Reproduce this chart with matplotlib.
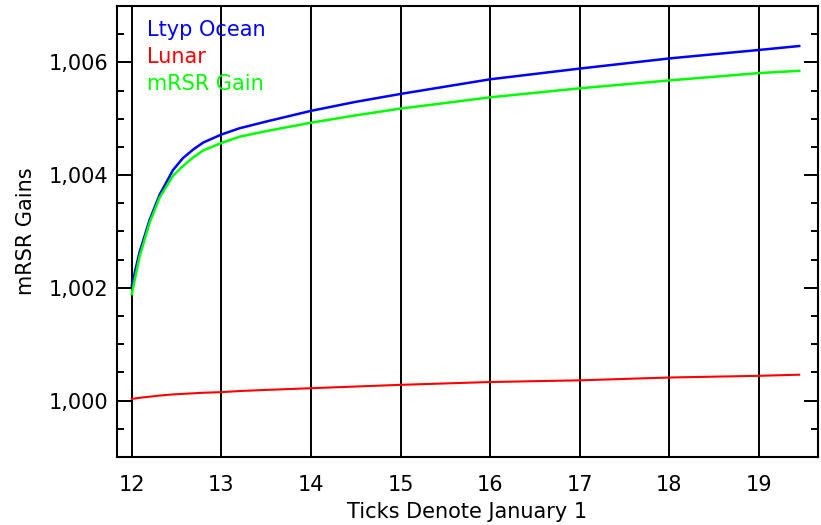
import matplotlib
matplotlib.use("Agg")
import matplotlib.pyplot as plt
from matplotlib.ticker import MultipleLocator, FixedLocator, FixedFormatter

# --- data (x in years, ticks mark January 1) ---
years = [12.0, 12.086, 12.2, 12.31, 12.46, 12.57, 12.69, 12.8, 13.0, 13.2,
         13.5, 14.0, 14.5, 15.0, 16.0, 17.0, 18.0, 19.0, 19.45]
ltyp_ocean = [1.00204, 1.00263, 1.00321, 1.00365, 1.00409, 1.00430, 1.00446, 1.00458,
              1.00472, 1.00483, 1.00495, 1.00514, 1.00530, 1.00544, 1.00570, 1.00589,
              1.00607, 1.00622, 1.00629]
mrsr_gain = [1.00189, 1.00255, 1.00316, 1.00360, 1.00399, 1.00416, 1.00432, 1.00444,
             1.00457, 1.00468, 1.00478, 1.00493, 1.00506, 1.00518, 1.00538, 1.00554,
             1.00568, 1.00581, 1.00585]
lunar = [1.00003, 1.00005, 1.00007, 1.00009, 1.00011, 1.00012, 1.00013, 1.00014,
         1.00015, 1.00017, 1.00019, 1.00022, 1.00025, 1.00028, 1.00033, 1.00036,
         1.00041, 1.00044, 1.00046]

x_ticks = [12, 13, 14, 15, 16, 17, 18, 19]
y_ticks = [1.000, 1.002, 1.004, 1.006]
y_tick_labels = ["1,000", "1,002", "1,004", "1,006"]

series = [("Ltyp Ocean", ltyp_ocean, "#0000ff"),
          ("Lunar", lunar, "#ff0000"),
          ("mRSR Gain", mrsr_gain, "#00ff00")]

plt.rcParams['font.family'] = ['DejaVu Sans']
FS = 15

fig = plt.figure(figsize=(8.21, 5.25), dpi=100)
ax = fig.add_axes([117 / 821, 68 / 525, 701 / 821, 451 / 525])

# vertical lines at every January 1 (IDL full-length ticks)
for xt in x_ticks:
    ax.axvline(xt, color="black", lw=1.4, zorder=1)

ax.plot(years, ltyp_ocean, color="#0000ff", lw=1.8, zorder=3)
ax.plot(years, lunar, color="#ff0000", lw=1.5, zorder=3)
ax.plot(years, mrsr_gain, color="#00ff00", lw=1.8, zorder=3)

ax.set_xlim(11.835, 19.66)
ax.set_ylim(0.999, 1.007)

ax.xaxis.set_major_locator(FixedLocator(x_ticks))
ax.tick_params(axis="x", length=0, pad=13, labelsize=FS)

ax.yaxis.set_major_locator(FixedLocator(y_ticks))
ax.yaxis.set_major_formatter(FixedFormatter(y_tick_labels))
ax.yaxis.set_minor_locator(MultipleLocator(0.0005))
ax.tick_params(axis="y", which="both", direction="in", left=True, right=True,
               width=1.4, labelsize=FS, pad=6)
ax.tick_params(axis="y", which="major", length=10)
ax.tick_params(axis="y", which="minor", length=5)

for sp in ax.spines.values():
    sp.set_linewidth(1.5)

ax.set_xlabel("Ticks Denote January 1", fontsize=FS, labelpad=5)
ax.set_ylabel("mRSR Gains", fontsize=FS, labelpad=9)

# legend as coloured text in the top-left corner
for i, (name, _, col) in enumerate(series):
    ax.text(147, 525 - 30 - 27 * i, name, color=col, fontsize=FS,
            transform=None, va="center", ha="left")

fig.savefig("out.png", dpi=100)
